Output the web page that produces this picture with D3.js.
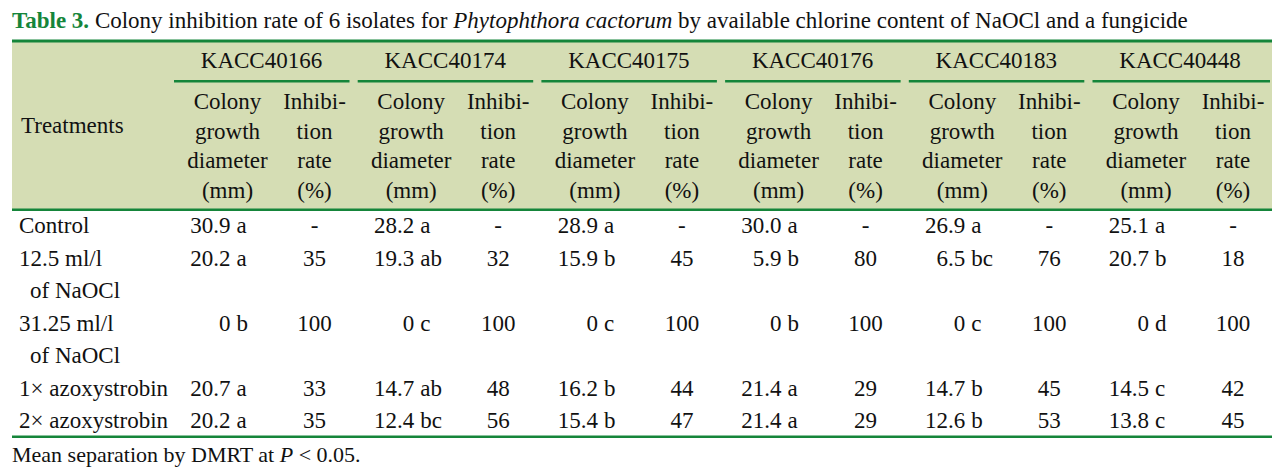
<!DOCTYPE html>
<html><head><meta charset="utf-8">
<script src="https://cdn.jsdelivr.net/npm/d3@7"></script>
<style>
html,body{margin:0;padding:0;background:#fff;}
svg{display:block;font-family:"Liberation Serif","Times New Roman",serif;}
</style></head>
<body><svg id="c" width="1281" height="476"></svg>
<script>
// ---- data ----
const titleLabel = "Table 3.";
const titleText = ["Colony inhibition rate of 6 isolates for ", "Phytophthora cactorum", " by available chlorine content of NaOCl and a fungicide"];
const isolates = ["KACC40166","KACC40174","KACC40175","KACC40176","KACC40183","KACC40448"];
const colonyHeader = ["Colony","growth","diameter","(mm)"];
const inhibHeader = ["Inhibi-","tion","rate","(%)"];
const treatmentHeader = "Treatments";
const treatments = [["Control"],["12.5 ml/l","of NaOCl"],["31.25 ml/l","of NaOCl"],["1\u00d7 azoxystrobin"],["2\u00d7 azoxystrobin"]];
// colony growth diameter (mm) per treatment, per isolate
const diameter = [
  ["30.9","28.2","28.9","30.0","26.9","25.1"],
  ["20.2","19.3","15.9","5.9","6.5","20.7"],
  ["0","0","0","0","0","0"],
  ["20.7","14.7","16.2","21.4","14.7","14.5"],
  ["20.2","12.4","15.4","21.4","12.6","13.8"]
];
const letters = [
  ["a","a","a","a","a","a"],
  ["a","ab","b","b","bc","b"],
  ["b","c","c","b","c","d"],
  ["a","ab","b","a","b","c"],
  ["a","bc","b","a","b","c"]
];
const inhibition = [
  ["-","-","-","-","-","-"],
  ["35","32","45","80","76","18"],
  ["100","100","100","100","100","100"],
  ["33","48","44","29","45","42"],
  ["35","56","47","29","53","45"]
];
const footnote = ["Mean separation by DMRT at ", "P", " < 0.05."];

// ---- layout ----
const green = "#15853a", bg = "#d5ddb4", ink = "#111";
const fs = 23;
const left = 12, right = 1272;
const svg = d3.select("#c");

const groupX = d3.scalePoint().domain(isolates).range([261.5, 1180]);
const colX = i => groupX(isolates[i]) - 34;
const inhX = i => groupX(isolates[i]) + 53;
const headLineY = d3.scaleLinear().domain([0,3]).range([109,198]);
const lineY = d3.scaleLinear().domain([0,6]).range([233,428]);

// title
const t = svg.append("text").attr("x",12).attr("y",28).attr("font-size",23).attr("fill",ink);
t.append("tspan").text(titleLabel).attr("font-weight","bold").attr("fill",green);
t.append("tspan").text(" " + titleText[0]);
t.append("tspan").text(titleText[1]).attr("font-style","italic");
t.append("tspan").text(titleText[2]);

// header bg and rules
svg.append("rect").attr("x",left).attr("y",41).attr("width",right-left).attr("height",169).attr("fill",bg);
svg.append("rect").attr("x",left).attr("y",39.5).attr("width",right-left).attr("height",3).attr("fill",green);
svg.append("rect").attr("x",left).attr("y",208.5).attr("width",right-left).attr("height",2.5).attr("fill",green);
svg.append("rect").attr("x",left).attr("y",435.5).attr("width",right-left).attr("height",2.5).attr("fill",green);

// group labels + underlines
isolates.forEach((iso,i)=>{
  const gx = groupX(iso);
  svg.append("text").attr("x",gx).attr("y",68).attr("text-anchor","middle").attr("font-size",fs).attr("fill",ink).text(iso);
  const x0 = gx - 87.5, x1 = (i===isolates.length-1) ? right-2 : gx + 88;
  svg.append("rect").attr("x",x0).attr("y",80).attr("width",x1-x0).attr("height",2.5).attr("fill",green);
  colonyHeader.forEach((w,k)=>svg.append("text").attr("x",colX(i)).attr("y",headLineY(k)).attr("text-anchor","middle").attr("font-size",fs).attr("fill",ink).text(w));
  inhibHeader.forEach((w,k)=>svg.append("text").attr("x",inhX(i)).attr("y",headLineY(k)).attr("text-anchor","middle").attr("font-size",fs).attr("fill",ink).text(w));
});
svg.append("text").attr("x",21).attr("y",133).attr("font-size",fs).attr("fill",ink).text(treatmentHeader);

// body
let line = 0;
treatments.forEach((tr,r)=>{
  const y = lineY(line);
  tr.forEach((lab,k)=>svg.append("text").attr("x", k===0 ? 19 : 30).attr("y",lineY(line+k)).attr("font-size",fs).attr("fill",ink).text(lab));
  isolates.forEach((iso,i)=>{
    svg.append("text").attr("x",colX(i)+3).attr("y",y).attr("text-anchor","end").attr("font-size",fs).attr("fill",ink).text(diameter[r][i]);
    svg.append("text").attr("x",colX(i)+9).attr("y",y).attr("font-size",fs).attr("fill",ink).text(letters[r][i]);
    svg.append("text").attr("x",inhX(i)).attr("y",y).attr("text-anchor","middle").attr("font-size",fs).attr("fill",ink).text(inhibition[r][i]);
  });
  line += tr.length;
});

// footnote
const f = svg.append("text").attr("x",12).attr("y",462).attr("font-size",22).attr("fill",ink);
f.append("tspan").text(footnote[0]);
f.append("tspan").text(footnote[1]).attr("font-style","italic");
f.append("tspan").text(footnote[2]);
</script></body></html>
